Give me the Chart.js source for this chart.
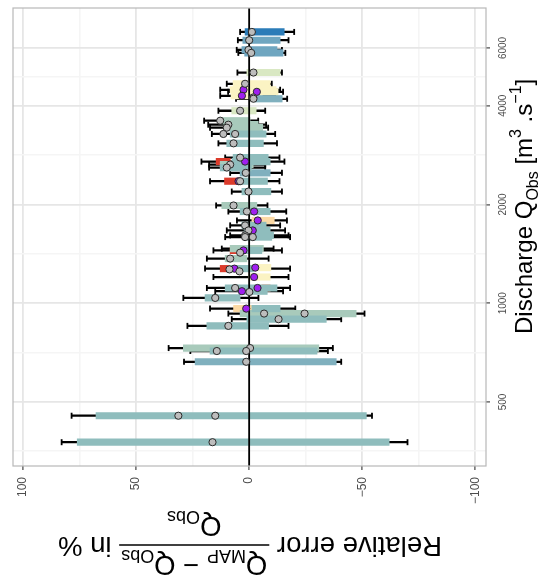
<!DOCTYPE html>
<html><head><meta charset="utf-8">
<script src="https://cdn.jsdelivr.net/npm/chart.js@4.4.0/dist/chart.umd.min.js"></script>
<style>html,body{margin:0;padding:0;background:#fff}canvas{display:block}</style>
</head><body>
<canvas id="c" width="552" height="579"></canvas>
<script>
// ---------------- DATA ----------------
// Relative error axis ticks (%), discharge axis ticks (m3/s)
const errMajorTicks = [-100, -50, 0, 50, 100];
const errMinorTicks = [-75, -25, 25, 75];
const qMajorTicks = [500, 1000, 2000, 4000, 6000];
const qMinorTicks = [354, 707, 1414, 2828, 4899];

// Floating bars: discharge, lower / upper relative error, class
const barQ  = [6715,6336,5920,5797,5050,4667,4475,4411,4290,4201,3862,3601,3502,3429,3281,3072,2780,2703,2703,2647,2592,2497,2355,2355,2190,1986,1904,1788,1727,1667,1610,1591,1467,1449,1449,1368,1275,1275,1284,1202,1113,1113,1088,1038,963,963,930,894,853,730,715,663,454,377];
const barLo = [-15.5,-13.7,-12.3,-15.0,-13.7,-9.3,-11.9,-12.8,-5.8,-14.6,-3.1,-0.4,-4.0,-6.0,-7.5,-6.3,-8.4,8.4,-9.3,-1.8,-1.0,-9.3,4.7,-8.1,-9.6,-3.4,-9.3,-11.1,-7.5,-9.3,-10.8,-10.0,-6.3,2.5,-5.6,1.0,8.4,-1.9,-9.6,-9.3,-12.3,-9.3,-8.0,4.0,-1.2,-13.7,-47.3,-34.1,-8.6,-30.8,-30.0,-38.5,-51.8,-61.9];
const barHi = [1.8,2.8,3.2,2.0,1.0,7.1,8.4,4.0,8.0,-2.7,7.7,12.0,10.2,11.1,8.4,9.9,7.1,14.6,7.5,12.8,12.8,4.0,10.9,4.7,3.2,12.1,4.0,-1.2,3.2,2.2,-0.4,1.0,8.4,8.4,2.5,10.6,12.8,8.4,-2.7,0.3,10.6,-5.6,4.5,19.5,6.9,-1.2,4.0,1.0,18.7,29.1,17.3,23.9,67.7,76.0];
const barClass = ['c1','c2','c2','c2','c6','c7','c7','c7','c7','c3','c6','c5','c5','c5','c4','c4','c4','c10','c4','c5','c4','c3','c10','c4','c4','c5','c4','c8','c4','c4','c4','c4','c5','c10','c4','c5','c10','c4','c7','c7','c4','c9','c4','c4','c8','c4','c5','c4','c4','c5','c4','c3','c4','c4'];

// Error bars: discharge, lower / upper limit
const errQ  = [6715,6336,5920,5797,5050,4667,4475,4411,4290,4201,3862,3601,3502,3429,3281,3072,2780,2703,2647,2592,2497,2355,2190,1986,1904,1788,1727,1667,1610,1591,1467,1449,1368,1275,1202,1113,1088,1038,963,930,894,853,730,715,663,454,377];
const errLo = [-19.9,-17.4,-14.5,-16.0,-14.5,-10.0,-13.7,-15.0,-11.5,-16.8,-7.1,-4.0,-7.5,-8.4,-11.5,-12.3,-13.4,-15.6,-7.1,-7.1,-14.5,-13.4,-14.5,-8.1,-16.4,-16.7,-13.7,-15.9,-17.4,-18.1,-10.8,-14.5,-8.6,-18.1,-17.4,-18.1,-15.0,-4.1,-20.4,-51.0,-40.7,-17.4,-37.0,-34.8,-40.7,-54.3,-70.0];
const errHi = [4.0,5.0,5.5,4.8,5.2,9.9,12.8,9.3,12.8,5.8,13.6,19.9,18.1,17.3,16.5,13.6,10.6,21.1,17.7,17.7,8.4,17.3,7.7,14.6,9.2,5.4,8.4,9.9,8.4,10.6,12.1,15.8,18.7,19.5,15.8,18.7,15.0,29.1,17.3,9.2,7.7,27.3,35.6,26.0,28.8,78.5,82.9];

// Point estimates (series A = grey, series B = purple)
const ptAQ   = [6715,6336,5920,5797,5050,4667,4240,4201,3862,3601,3502,3429,3281,3281,3072,2780,2647,2592,2497,2355,2190,1986,1904,1727,1667,1610,1591,1591,1426,1368,1268,1251,1113,1082,1038,930,930,894,853,730,715,715,663,454,454,377];
const ptAVal = [-1.2,0,0.3,-0.9,-1.9,1.8,-1.8,-1.9,4.0,12.8,9.2,9.9,11.4,6.2,6.9,4.0,8.4,9.9,1.5,4.0,0.3,6.9,1.0,1.8,0.3,1.8,1.8,-1.6,4.0,8.4,8.7,4.3,6.2,-0.1,15.0,-6.6,-24.5,-13.0,9.2,-0.4,14.3,1.3,1.3,31.3,15.0,16.2];
const ptBQ   = [4475,4411,4290,2703,2355,1904,1788,1667,1449,1275,1284,1202,1113,1088,963];
const ptBVal = [2.5,-3.4,3.2,1.8,4.7,-2.2,-3.8,-1.6,2.5,6.5,-2.7,-2.2,-3.7,3.2,1.3];

// ---------------- STYLE ----------------
const FONT = "'Liberation Sans', Arial, Helvetica, sans-serif";
const palette = {c1:'#2b7cb8', c2:'#6fa6c0', c3:'#80b0be', c4:'#8fbdbd', c5:'#a8cabb', c6:'#d9e8c3',
                 c7:'#fbf3c3', c8:'#fbd9a5', c9:'#f2a07c', c10:'#dc3b2b'};
const classOrder = ['c4','c3','c2','c1','c5','c6','c7','c8','c9','c10'];

const datasets = [];
// points (drawn last -> order 0)
datasets.push({type:'scatter', label:'A', order:0,
  data: ptAQ.map((q,i)=>({x:ptAVal[i], y:q})),
  pointRadius:3.6, pointBackgroundColor:'#bdbdbd', pointBorderColor:'#2a2a2a', pointBorderWidth:1});
datasets.push({type:'scatter', label:'B', order:0,
  data: ptBQ.map((q,i)=>({x:ptBVal[i], y:q})),
  pointRadius:3.6, pointBackgroundColor:'#a020f0', pointBorderColor:'#2a2a2a', pointBorderWidth:1});
// zero line
datasets.push({type:'line', label:'zero', order:1, data:[{x:0,y:300},{x:0,y:9000}],
  borderColor:'#000', borderWidth:1.8, pointRadius:0, fill:false});
// coloured bars
classOrder.forEach(cl=>{
  const d = [];
  barQ.forEach((q,i)=>{ if (barClass[i]===cl) d.push({y:q, x:[barLo[i], barHi[i]]}); });
  datasets.push({type:'bar', label:cl, indexAxis:'y', order:2, data:d, grouped:false,
    barThickness:6.5, backgroundColor:palette[cl], borderWidth:0});
});
// error bar caps
datasets.push({type:'scatter', label:'caps', order:3,
  data: errQ.flatMap((q,i)=>[{x:errLo[i], y:q},{x:errHi[i], y:q}]),
  pointStyle:'line', rotation:90, pointRadius:3, pointBorderColor:'#000', pointBorderWidth:1.8});
// error bar whiskers
datasets.push({type:'bar', label:'whisker', indexAxis:'y', order:4, grouped:false,
  data: errQ.map((q,i)=>({y:q, x:[errLo[i], errHi[i]]})),
  barThickness:1.6, backgroundColor:'#000', borderWidth:0});

const fmtErr = v => v < 0 ? '\u2212' + Math.abs(v) : String(v);

function drawParts(c, parts, x, y) {
  let cx = x;
  for (const p of parts) {
    c.font = p.s + 'px ' + FONT;
    c.fillText(p.t, cx, y + (p.dy || 0));
    cx += c.measureText(p.t).width;
  }
  return cx - x;
}
function partsWidth(c, parts) {
  let w = 0;
  for (const p of parts) { c.font = p.s + 'px ' + FONT; w += c.measureText(p.t).width; }
  return w;
}

const titlePlugin = {
  id: 'titles',
  afterDraw(chart) {
    const c = chart.ctx;
    // right axis title (reads bottom to top)
    const F1 = 24, S1 = 16;
    c.save();
    c.fillStyle = '#000';
    c.textBaseline = 'alphabetic';
    c.textAlign = 'left';
    c.translate(532, 334);
    c.rotate(-Math.PI / 2);
    drawParts(c, [
      {t:'Discharge Q', s:F1}, {t:'Obs', s:S1, dy:6},
      {t:' [m', s:F1}, {t:'3', s:S1, dy:-11},
      {t:' .s', s:F1}, {t:'\u22121', s:S1, dy:-11}, {t:']', s:F1}
    ], 0, 0);
    c.restore();

    // bottom axis title (upside down)
    const F = 27.5, S = 18;
    c.save();
    c.fillStyle = '#000';
    c.strokeStyle = '#000';
    c.textBaseline = 'alphabetic';
    c.textAlign = 'left';
    c.translate(250, 545);
    c.rotate(Math.PI);
    const leftP = [{t:'Relative error ', s:F}];
    const numP = [{t:'Q', s:F}, {t:'MAP', s:S, dy:6.5}, {t:' \u2212 Q', s:F}, {t:'Obs', s:S, dy:6.5}];
    const denP = [{t:'Q', s:F}, {t:'Obs', s:S, dy:6.5}];
    const rightP = [{t:' in %', s:F}];
    const wL = partsWidth(c, leftP), wN = partsWidth(c, numP), wD = partsWidth(c, denP), wR = partsWidth(c, rightP);
    const fw = Math.max(wN, wD) + 4;
    const x0 = -(wL + fw + wR) / 2;
    drawParts(c, leftP, x0, 8);
    c.lineWidth = 1.5;
    c.beginPath(); c.moveTo(x0 + wL, 0); c.lineTo(x0 + wL + fw, 0); c.stroke();
    drawParts(c, numP, x0 + wL + (fw - wN) / 2, -11);
    drawParts(c, denP, x0 + wL + (fw - wD) / 2, 28);
    drawParts(c, rightP, x0 + wL + fw, 8);
    c.restore();
  }
};

const borderPlugin = {
  id: 'panelBorder',
  afterDatasetsDraw(chart) {
    const {left, top, right, bottom} = chart.chartArea;
    const c = chart.ctx;
    c.save();
    c.strokeStyle = '#b8b8b8';
    c.lineWidth = 1.2;
    c.strokeRect(left, top, right - left, bottom - top);
    c.restore();
  }
};

new Chart(document.getElementById('c'), {
  type: 'scatter',
  data: { datasets },
  options: {
    responsive: false, animation: false, devicePixelRatio: 1, events: [],
    layout: { padding: { left: 13, top: 7, right: 0, bottom: 0 } },
    plugins: { legend: { display: false }, tooltip: { enabled: false } },
    scales: {
      x: {
        type: 'linear', position: 'bottom', reverse: true, min: -104.7, max: 104.4,
        stacked: false, offset: false,
        afterBuildTicks: s => { s.ticks = errMajorTicks.concat(errMinorTicks).sort((a,b)=>a-b).map(v => ({value: v})); },
        afterFit: s => { s.height = 113; },
        ticks: {
          autoSkip: false, minRotation: 90, maxRotation: 90, padding: 7,
          color: '#4d4d4d', font: { family: FONT, size: 12 },
          callback: v => errMajorTicks.includes(v) ? fmtErr(v) : ''
        },
        grid: {
          offset: false, drawTicks: true, tickLength: 4,
          color: c => errMajorTicks.includes(c.tick && c.tick.value) ? '#e6e6e6' : '#f5f5f5',
          lineWidth: c => errMajorTicks.includes(c.tick && c.tick.value) ? 1.8 : 1.6,
          tickColor: c => errMajorTicks.includes(c.tick && c.tick.value) ? '#444' : 'rgba(0,0,0,0)',
          tickWidth: 1.2
        },
        border: { display: false }
      },
      y: {
        type: 'logarithmic', position: 'right', min: 319, max: 7944, offset: false,
        afterBuildTicks: s => { s.ticks = qMajorTicks.concat(qMinorTicks).sort((a,b)=>a-b).map(v => ({value: v})); },
        afterFit: s => { s.width = 66; },
        ticks: {
          autoSkip: false, minRotation: 90, maxRotation: 90, padding: 2, crossAlign: 'center',
          color: '#4d4d4d', font: { family: FONT, size: 10 },
          callback: v => qMajorTicks.includes(v) ? String(v) : ''
        },
        grid: {
          offset: false, drawTicks: true, tickLength: 4,
          color: c => qMajorTicks.includes(c.tick && c.tick.value) ? '#e6e6e6' : '#f5f5f5',
          lineWidth: c => qMajorTicks.includes(c.tick && c.tick.value) ? 1.8 : 1.6,
          tickColor: c => qMajorTicks.includes(c.tick && c.tick.value) ? '#444' : 'rgba(0,0,0,0)',
          tickWidth: 1.2
        },
        border: { display: false }
      }
    }
  },
  plugins: [titlePlugin, borderPlugin]
});
</script>
</body></html>
